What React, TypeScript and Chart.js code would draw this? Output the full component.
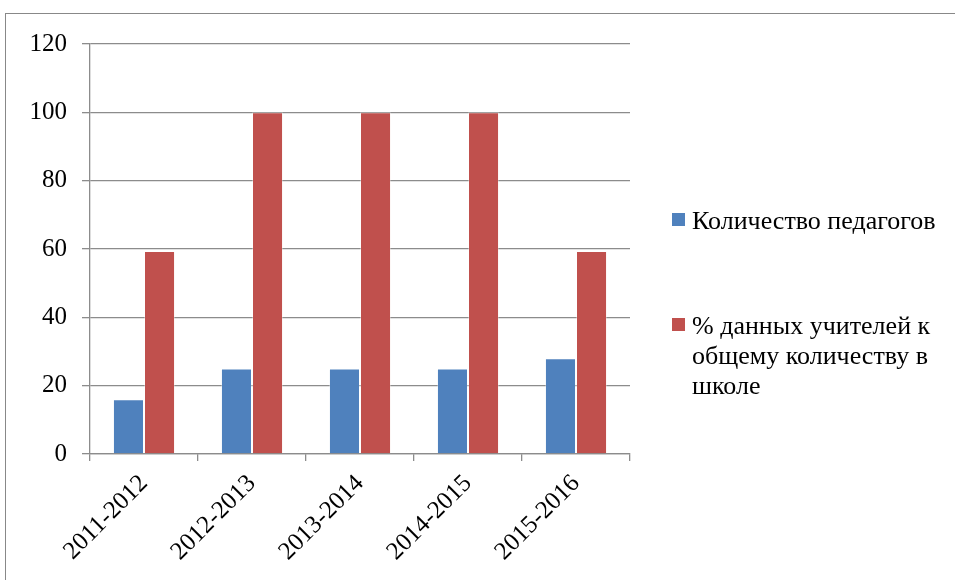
import React, { useEffect, useRef } from "react";
import { Chart, registerables } from "chart.js";

Chart.register(...registerables);

const categories = ["2011-2012", "2012-2013", "2013-2014", "2014-2015", "2015-2016"];
const teachersCount = [16, 25, 25, 25, 28];
const teachersPercent = [59.4, 100, 100, 100, 59.4];
const seriesLabels = ["Количество педагогов", "% данных учителей к общему количеству в школе"];
const legendLines = [["Количество педагогов"], ["% данных учителей к", "общему количеству в", "школе"]];
const yTicks = [0, 20, 40, 60, 80, 100, 120];

const BLUE = "#4F81BD";
const RED = "#C0504D";
const GRID = "#8c8c8c";
const FONT = "'Liberation Serif', 'Times New Roman', serif";

export default function App() {
  const canvasRef = useRef<HTMLCanvasElement | null>(null);

  useEffect(() => {
    const ctx = canvasRef.current!;
    const chart = new Chart(ctx, {
      type: "bar",
      data: {
        labels: categories,
        datasets: [
          {
            label: seriesLabels[0],
            data: teachersCount,
            backgroundColor: BLUE,
            borderColor: "rgba(255,255,255,0.35)",
            borderWidth: 1,
            categoryPercentage: 0.575,
            barPercentage: 1,
          },
          {
            label: seriesLabels[1],
            data: teachersPercent,
            backgroundColor: RED,
            borderColor: "rgba(255,255,255,0.35)",
            borderWidth: 1,
            categoryPercentage: 0.575,
            barPercentage: 1,
          },
        ],
      },
      options: {
        responsive: false,
        animation: false,
        layout: { padding: { left: 0, top: 44, right: 325, bottom: 0 } },
        plugins: { legend: { display: false }, tooltip: { enabled: false } },
        scales: {
          x: {
            offset: true,
            grid: {
              display: true,
              drawOnChartArea: false,
              drawTicks: true,
              tickLength: 7,
              offset: true,
              color: GRID,
              lineWidth: 1.3,
            },
            border: { display: true, color: GRID, width: 1.3 },
            ticks: {
              minRotation: 45,
              maxRotation: 45,
              color: "#000",
              font: { family: FONT, size: 25 },
              padding: 8,
            },
            afterFit: (scale: any) => {
              scale.height = 126;
            },
          },
          y: {
            min: 0,
            max: 120,
            afterBuildTicks: (scale: any) => {
              scale.ticks = yTicks.map((v) => ({ value: v }));
            },
            grid: {
              color: GRID,
              lineWidth: 1.3,
              drawTicks: true,
              tickLength: 8,
            },
            border: { display: true, color: GRID, width: 1.3 },
            ticks: {
              color: "#000",
              font: { family: FONT, size: 25 },
              padding: 15,
            },
            afterFit: (scale: any) => {
              scale.width = 90;
            },
          },
        },
      },
    });
    return () => chart.destroy();
  }, []);

  const colors = [BLUE, RED];
  const legendTops = [206, 311];

  return (
    <div
      style={{
        position: "absolute",
        left: 0,
        top: 0,
        width: 955,
        height: 580,
        overflow: "hidden",
        background: "#fff",
      }}
    >
      <div
        style={{
          position: "absolute",
          left: 5,
          top: 13,
          width: 1200,
          height: 1200,
          border: "1.5px solid #888",
          boxSizing: "border-box",
        }}
      />
      <canvas ref={canvasRef} width={955} height={580} style={{ position: "absolute", left: 0, top: 0 }} />
      {legendLines.map((lines, i) => (
        <div
          key={i}
          style={{
            position: "absolute",
            left: 672,
            top: legendTops[i],
            display: "flex",
            alignItems: "flex-start",
            fontFamily: FONT,
            fontSize: 26,
            lineHeight: "30px",
            color: "#000",
          }}
        >
          <div
            style={{
              width: 13,
              height: 13,
              background: colors[i],
              marginTop: 7,
              marginRight: 7,
              flex: "none",
            }}
          />
          <div style={{ whiteSpace: "nowrap" }}>
            {lines.map((l, j) => (
              <div key={j}>{l}</div>
            ))}
          </div>
        </div>
      ))}
    </div>
  );
}
